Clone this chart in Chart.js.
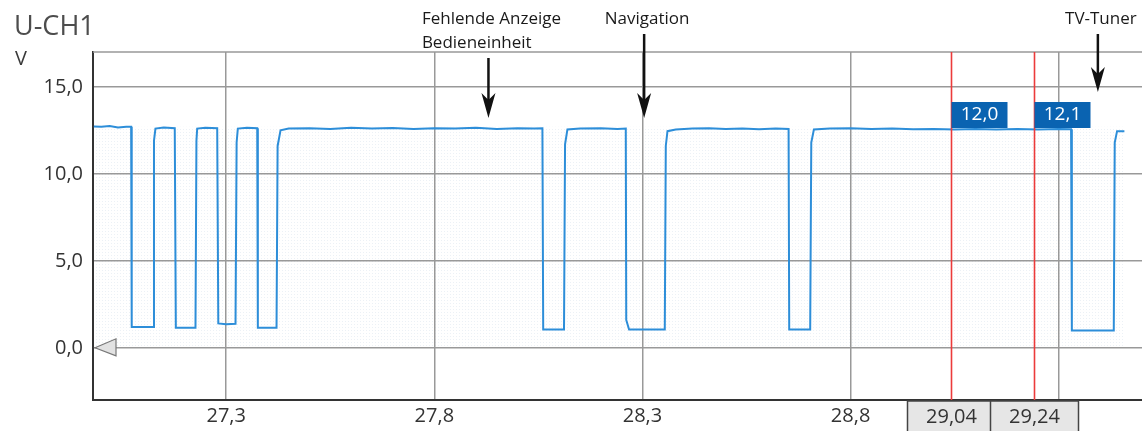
<!DOCTYPE html>
<html>
<head>
<meta charset="utf-8">
<title>U-CH1</title>
<script src="https://cdn.jsdelivr.net/npm/chart.js@4"></script>
<style>
    html, body { margin: 0; padding: 0; background: #fff; }
    canvas { display: block; }
</style>
</head>
<body>
<canvas id="scopeChart" width="1142" height="431"></canvas>
<script>
// Recorded trace of channel U-CH1 (time in s, voltage in V)
const timeS = [
    26.982, 27.000, 27.020, 27.040, 27.060, 27.0716, 27.0730, 27.1245, 27.1265, 27.1300,
    27.150, 27.1764, 27.1790, 27.2262, 27.2285, 27.2303, 27.250, 27.2784, 27.2810, 27.300,
    27.3224, 27.3250, 27.3279, 27.350, 27.3745, 27.3760, 27.4209, 27.4235, 27.4305, 27.450,
    27.500, 27.550, 27.600, 27.650, 27.700, 27.750, 27.800, 27.850, 27.900, 27.950,
    28.000, 28.040, 28.0596, 28.0615, 28.1115, 28.1140, 28.1197, 28.150, 28.200, 28.240,
    28.2599, 28.2610, 28.2678, 28.3536, 28.3560, 28.3601, 28.380, 28.420, 28.460, 28.500,
    28.540, 28.580, 28.620, 28.6510, 28.6525, 28.7029, 28.7055, 28.7118, 28.750, 28.800,
    28.850, 28.900, 28.950, 29.000, 29.050, 29.100, 29.150, 29.200, 29.250, 29.300,
    29.3296, 29.3315, 29.4322, 29.4345, 29.4401, 29.4577
];
const voltageV = [
    12.72, 12.70, 12.74, 12.66, 12.70, 12.70, 1.20, 1.20, 11.90, 12.60,
    12.66, 12.62, 1.15, 1.15, 11.90, 12.60, 12.64, 12.62, 1.40, 1.35,
    1.38, 11.80, 12.60, 12.64, 12.62, 1.15, 1.15, 11.60, 12.50, 12.60,
    12.62, 12.58, 12.64, 12.60, 12.63, 12.57, 12.62, 12.60, 12.64, 12.58,
    12.62, 12.60, 12.62, 1.05, 1.05, 11.70, 12.55, 12.60, 12.62, 12.58,
    12.60, 1.60, 1.05, 1.05, 11.60, 12.45, 12.55, 12.60, 12.62, 12.58,
    12.60, 12.56, 12.60, 12.58, 1.05, 1.05, 11.80, 12.55, 12.60, 12.62,
    12.58, 12.60, 12.56, 12.58, 12.55, 12.58, 12.55, 12.57, 12.55, 12.58,
    12.56, 1.00, 1.00, 11.80, 12.45, 12.45
];

const yTicks = [0, 5, 10, 15];
const xTicks = [27.3, 27.8, 28.3, 28.8, 29.3];

// Measurement cursors and their readouts
const cursorTimes = [29.04, 29.24];
const cursorReadings = [12.0, 12.1];

// Annotated bus events
const noteTexts = [['Fehlende Anzeige', 'Bedieneinheit'], ['Navigation'], ['TV-Tuner']];
const noteTimes = [27.93, 28.304, 29.394];
const noteTips = [13.2, 13.2, 14.7];

const FONT = "'Open Sans', 'Noto Sans', sans-serif";
const fmt1 = v => v.toFixed(1).replace('.', ',');
const fmt2 = v => v.toFixed(2).replace('.', ',');

function makeDotPattern() {
    const c = document.createElement('canvas');
    c.width = 3; c.height = 3;
    const g = c.getContext('2d');
    g.fillStyle = 'rgba(170, 190, 215, 0.22)';
    g.fillRect(0, 0, 1, 1);
    return c;
}

const scopeOverlay = {
    id: 'scopeOverlay',
    beforeDraw(chart) {
        const { ctx, scales } = chart;
        ctx.save();
        ctx.fillStyle = '#fff';
        ctx.fillRect(0, 0, chart.width, chart.height);
        // faint dotted background behind the trace
        const x0 = scales.x.getPixelForValue(timeS[0]);
        const x1 = scales.x.getPixelForValue(timeS[timeS.length - 1]);
        const yTop = scales.y.getPixelForValue(12.7);
        const yBot = scales.y.getPixelForValue(0);
        ctx.fillStyle = ctx.createPattern(makeDotPattern(), 'repeat');
        ctx.fillRect(x0, yTop, x1 - x0, yBot - yTop);
        ctx.restore();
    },
    afterDraw(chart) {
        const { ctx, chartArea, scales } = chart;
        const xs = scales.x, ys = scales.y;
        ctx.save();

        // channel name and unit
        ctx.fillStyle = '#4d4d4d';
        ctx.font = '27px ' + FONT;
        ctx.textBaseline = 'alphabetic';
        ctx.textAlign = 'left';
        ctx.fillText('U-CH1', 14, 35);
        ctx.fillStyle = '#3a3a3a';
        ctx.font = '20px ' + FONT;
        ctx.fillText('V', 15, 65);

        // top frame line
        ctx.strokeStyle = '#999';
        ctx.lineWidth = 1.5;
        ctx.beginPath();
        ctx.moveTo(chartArea.left, chartArea.top);
        ctx.lineTo(chartArea.right, chartArea.top);
        ctx.stroke();

        // ground reference marker
        const y0 = ys.getPixelForValue(0);
        const lx = chartArea.left + 2;
        ctx.fillStyle = '#e2e2e2';
        ctx.strokeStyle = '#777';
        ctx.lineWidth = 1.2;
        ctx.beginPath();
        ctx.moveTo(lx, y0);
        ctx.lineTo(lx + 21, y0 - 9);
        ctx.lineTo(lx + 21, y0 + 8);
        ctx.closePath();
        ctx.fill();
        ctx.stroke();

        // cursors
        cursorTimes.forEach((t, i) => {
            const cx = Math.round(xs.getPixelForValue(t)) + 0.5;
            ctx.strokeStyle = '#ec3b3b';
            ctx.lineWidth = 1.6;
            ctx.beginPath();
            ctx.moveTo(cx, chartArea.top);
            ctx.lineTo(cx, chartArea.bottom);
            ctx.stroke();

            // readout box
            ctx.fillStyle = '#0a63b1';
            ctx.fillRect(cx, chartArea.top + 50, 56, 26);
            ctx.fillStyle = '#fff';
            ctx.font = '19px ' + FONT;
            ctx.textAlign = 'center';
            ctx.textBaseline = 'middle';
            ctx.fillText(fmt1(cursorReadings[i]), cx + 28, chartArea.top + 63);

            // time box on the axis
            ctx.fillStyle = '#e6e6e6';
            ctx.fillRect(cx - 44, chartArea.bottom + 1, 88, 34);
            ctx.strokeStyle = '#444';
            ctx.lineWidth = 1.5;
            ctx.strokeRect(cx - 44, chartArea.bottom + 1, 88, 34);
            ctx.fillStyle = '#333';
            ctx.font = '20px ' + FONT;
            ctx.fillText(fmt2(t), cx, chartArea.bottom + 17);
        });

        // event notes with arrows
        ctx.font = '17px ' + FONT;
        ctx.textAlign = 'left';
        ctx.textBaseline = 'middle';
        noteTexts.forEach((lines, i) => {
            const ax = xs.getPixelForValue(noteTimes[i]);
            const w = ctx.measureText(lines[0]).width;
            ctx.fillStyle = '#1a1a1a';
            lines.forEach((line, j) => ctx.fillText(line, ax + 3 - w / 2, 19 + j * 24));
            const top = 19 + (lines.length - 1) * 24 + 15;
            const tip = ys.getPixelForValue(noteTips[i]);
            ctx.strokeStyle = '#111';
            ctx.lineWidth = 2.5;
            ctx.beginPath();
            ctx.moveTo(ax, top);
            ctx.lineTo(ax, tip - 16);
            ctx.stroke();
            ctx.fillStyle = '#111';
            ctx.beginPath();
            ctx.moveTo(ax, tip);
            ctx.lineTo(ax - 7, tip - 25);
            ctx.lineTo(ax, tip - 18);
            ctx.lineTo(ax + 7, tip - 25);
            ctx.closePath();
            ctx.fill();
        });
        ctx.restore();
    }
};

const ctx = document.getElementById('scopeChart').getContext('2d');
const scopeChart = new Chart(ctx, {
    type: 'line',
    data: {
        datasets: [{
            label: 'U-CH1',
            data: timeS.map((t, i) => ({ x: t, y: voltageV[i] })),
            borderColor: '#2d8ed9',
            borderWidth: 2,
            pointRadius: 0,
            tension: 0,
            fill: false
        }]
    },
    options: {
        responsive: false,
        animation: false,
        layout: { padding: { top: 52, left: 0, right: 0, bottom: 0 } },
        plugins: {
            legend: { display: false },
            tooltip: { enabled: false }
        },
        scales: {
            x: {
                type: 'linear',
                min: 26.98,
                max: 29.5,
                afterFit: s => { s.height = 31; },
                afterBuildTicks: s => { s.ticks = xTicks.map(v => ({ value: v })); },
                ticks: {
                    color: '#333',
                    font: { family: FONT, size: 20 },
                    padding: 4,
                    maxRotation: 0,
                    autoSkip: false,
                    callback: v => fmt1(v)
                },
                grid: { color: '#999', lineWidth: 1.5, drawTicks: false },
                border: { color: '#333', width: 2 }
            },
            y: {
                min: -3,
                max: 17,
                afterFit: s => { s.width = 93; },
                afterBuildTicks: s => { s.ticks = yTicks.map(v => ({ value: v })); },
                ticks: {
                    color: '#333',
                    font: { family: FONT, size: 20 },
                    padding: 10,
                    callback: v => fmt1(v)
                },
                grid: { color: '#999', lineWidth: 1.5, drawTicks: false },
                border: { color: '#333', width: 2 }
            }
        }
    },
    plugins: [scopeOverlay]
});
</script>
</body>
</html>
